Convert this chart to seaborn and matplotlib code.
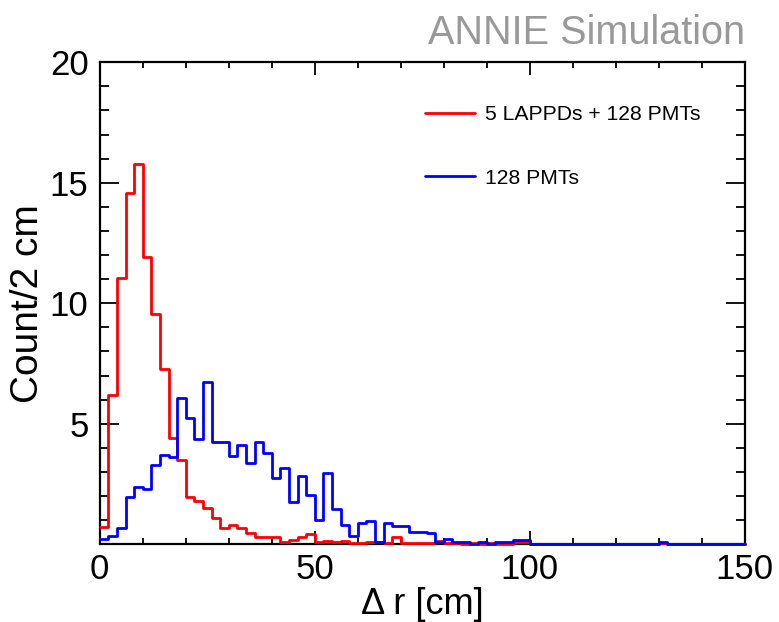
import numpy as np
import pandas as pd
import seaborn as sns
import matplotlib.pyplot as plt
from matplotlib.lines import Line2D
from matplotlib.ticker import MultipleLocator

# counts per 2 cm bin, 0-150 cm
bin_width = 2
red_counts = [0.7, 6.19, 11.05, 14.59, 15.78, 11.9, 9.55, 7.29, 4.4, 3.49,
              1.97, 1.79, 1.49, 1.08, 0.66, 0.8, 0.66, 0.46, 0.32, 0.32,
              0.32, 0.1, 0.18, 0.32, 0.41, 0.08, 0.15, 0.08, 0.15, 0.04,
              0.04, 0.08, 0.08, 0.04, 0.3, 0.04, 0.04, 0.04, 0.04, 0.12,
              0.04, 0.04, 0.0, 0.04, 0.0, 0.04, 0.0, 0.0, 0.1, 0.1,
              0, 0, 0, 0, 0, 0, 0, 0, 0, 0, 0, 0, 0, 0, 0,
              0.06, 0, 0, 0, 0, 0, 0, 0, 0, 0]
blue_counts = [0.2, 0.35, 0.67, 1.97, 2.39, 2.3, 3.28, 3.7, 3.6, 6.05,
               5.25, 4.38, 6.75, 4.26, 4.26, 3.68, 4.12, 3.36, 4.23, 3.78,
               2.74, 3.15, 1.74, 2.83, 2.05, 1.01, 2.95, 1.45, 0.78, 0.36,
               0.87, 0.98, 0.08, 0.9, 0.76, 0.76, 0.52, 0.52, 0.46, 0.08,
               0.2, 0.08, 0.08, 0.0, 0.08, 0.0, 0.08, 0.08, 0.18, 0.18,
               0, 0, 0, 0, 0, 0, 0, 0, 0, 0, 0, 0, 0, 0, 0,
               0.1, 0, 0, 0, 0, 0, 0, 0, 0, 0]
labels = ["5 LAPPDs + 128 PMTs", "128 PMTs"]
colors = ["#ff0000", "#0000ff"]

edges = np.arange(0, 150 + bin_width, bin_width)
centers = edges[:-1] + bin_width / 2

sns.set_theme(style="ticks")
plt.rcParams['font.family'] = ['Liberation Sans', 'DejaVu Sans']
plt.rcParams['text.color'] = 'black'
plt.rcParams['axes.labelcolor'] = 'black'

fig = plt.figure(figsize=(7.79, 6.22), dpi=100)
ax = fig.add_axes([0.128, 0.125, 0.828, 0.775])

for counts, col in zip([red_counts, blue_counts], colors):
    df = pd.DataFrame({"dr": centers, "n": counts})
    sns.histplot(data=df, x="dr", weights="n", bins=edges.tolist(), element="step",
                 fill=False, color=col, linewidth=2, ax=ax, zorder=3, clip_on=False)

ax.set_xlim(0, 150)
ax.set_ylim(0, 20)
ax.set_xticks([0, 50, 100, 150])
ax.set_yticks([5, 10, 15, 20])
ax.xaxis.set_minor_locator(MultipleLocator(10))
ax.yaxis.set_minor_locator(MultipleLocator(1))
ax.tick_params(axis="both", which="both", direction="in", top=True, right=True,
               colors="black", labelsize=25, width=1.3)
ax.tick_params(axis="x", which="major", length=9.5, pad=6)
ax.tick_params(axis="x", which="minor", length=4.5)
ax.tick_params(axis="y", which="major", length=13.5, pad=8)
ax.tick_params(axis="y", which="minor", length=6.5)
for s in ax.spines.values():
    s.set_linewidth(1.6)
    s.set_color("black")

ax.set_xlabel("\u0394 r [cm]", fontsize=26)
ax.set_ylabel("Count/2 cm", fontsize=28)
ax.xaxis.set_label_coords(0.5, -0.088)
ax.yaxis.set_label_coords(-0.084, 0.5)

handles = [Line2D([], [], color=c, linewidth=2) for c in colors]
ax.legend(handles, labels, loc="upper left", bbox_to_anchor=(0.4745, 0.95),
          frameon=False, fontsize=15.2, handlelength=2.4, handletextpad=0.45,
          labelspacing=2.1)

fig.text(0.956, 0.93, "ANNIE Simulation", ha="right", va="baseline",
         fontsize=28.5, color="#999999")

fig.savefig("out.png", dpi=100)
